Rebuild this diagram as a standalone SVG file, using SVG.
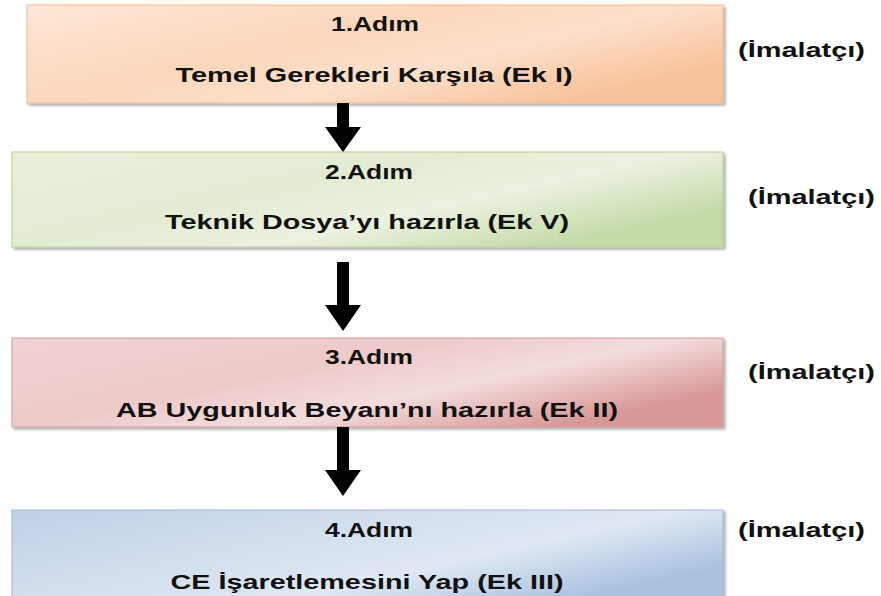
<svg xmlns="http://www.w3.org/2000/svg" width="881" height="596" viewBox="0 0 881 596">
  <defs>
    <linearGradient id="gPeach" x1="0" y1="0" x2="1" y2="0.6">
      <stop offset="0" stop-color="#FDE8D8"/>
      <stop offset="0.45" stop-color="#FBD7BB"/>
      <stop offset="0.7" stop-color="#FCE0CB"/>
      <stop offset="1" stop-color="#F8C39B"/>
    </linearGradient>
    <linearGradient id="gGreen" x1="0" y1="0" x2="1" y2="0.6">
      <stop offset="0" stop-color="#E8F0DC"/>
      <stop offset="0.45" stop-color="#E2ECD3"/>
      <stop offset="0.7" stop-color="#EBF2E1"/>
      <stop offset="1" stop-color="#C5DAA7"/>
    </linearGradient>
    <linearGradient id="gPink" x1="0" y1="0" x2="1" y2="0.6">
      <stop offset="0" stop-color="#F0D3D3"/>
      <stop offset="0.45" stop-color="#EDCACA"/>
      <stop offset="0.7" stop-color="#F3DCDC"/>
      <stop offset="1" stop-color="#D89897"/>
    </linearGradient>
    <linearGradient id="gBlue" x1="0" y1="0" x2="1" y2="0.6">
      <stop offset="0" stop-color="#BFD0E7"/>
      <stop offset="0.45" stop-color="#D5E0EE"/>
      <stop offset="0.7" stop-color="#DFE8F3"/>
      <stop offset="1" stop-color="#A9C1DF"/>
    </linearGradient>
    <filter id="shadow" x="-5%" y="-10%" width="110%" height="130%">
      <feGaussianBlur in="SourceAlpha" stdDeviation="1.5"/>
      <feOffset dx="2" dy="2" result="b"/>
      <feComponentTransfer><feFuncA type="linear" slope="0.35"/></feComponentTransfer>
      <feMerge><feMergeNode/><feMergeNode in="SourceGraphic"/></feMerge>
    </filter>
  </defs>
  <style>
    .box { stroke-width: 1; filter: url(#shadow); }
    .t { font-family: "Liberation Sans", Arial, sans-serif; font-weight: bold; font-size: 21px; fill: #111; }
    .c { text-anchor: middle; }
    .arrow { fill: #000; }
  </style>
  <rect width="881" height="596" fill="#fff"/>

  <g id="step1">
    <rect class="box" x="27" y="5" width="696" height="98" fill="url(#gPeach)" stroke="#F2B88E"/>
    <text class="t c" x="375" y="31" textLength="88" lengthAdjust="spacingAndGlyphs">1.Adım</text>
    <text class="t c" x="374" y="82" textLength="397" lengthAdjust="spacingAndGlyphs">Temel Gerekleri Karşıla (Ek I)</text>
  </g>
  <text id="role1" class="t" x="738" y="57" textLength="127" lengthAdjust="spacingAndGlyphs">(İmalatçı)</text>

  <g id="step2">
    <rect class="box" x="12" y="152" width="711" height="95" fill="url(#gGreen)" stroke="#B7CE92"/>
    <text class="t c" x="369" y="179" textLength="88" lengthAdjust="spacingAndGlyphs">2.Adım</text>
    <text class="t c" x="367" y="229" textLength="404" lengthAdjust="spacingAndGlyphs">Teknik Dosya’yı hazırla (Ek V)</text>
  </g>
  <text id="role2" class="t" x="748" y="204" textLength="127" lengthAdjust="spacingAndGlyphs">(İmalatçı)</text>

  <g id="step3">
    <rect class="box" x="12" y="338" width="711" height="89" fill="url(#gPink)" stroke="#D59B9A"/>
    <text class="t c" x="369" y="364" textLength="88" lengthAdjust="spacingAndGlyphs">3.Adım</text>
    <text class="t c" x="367" y="417" textLength="502" lengthAdjust="spacingAndGlyphs">AB Uygunluk Beyanı’nı hazırla (Ek II)</text>
  </g>
  <text id="role3" class="t" x="748" y="379" textLength="127" lengthAdjust="spacingAndGlyphs">(İmalatçı)</text>

  <g id="step4">
    <rect class="box" x="12" y="510" width="711" height="95" fill="url(#gBlue)" stroke="#9FB8D8"/>
    <text class="t c" x="369" y="537" textLength="88" lengthAdjust="spacingAndGlyphs">4.Adım</text>
    <text class="t c" x="367" y="589" textLength="393" lengthAdjust="spacingAndGlyphs">CE İşaretlemesini Yap (Ek III)</text>
  </g>
  <text id="role4" class="t" x="738" y="537" textLength="127" lengthAdjust="spacingAndGlyphs">(İmalatçı)</text>

  <g id="connectors">
    <path class="arrow" d="M337 103 H349 V127 H361 L343 152 L325 127 H337 Z"/>
    <path class="arrow" d="M337 262 H349 V305 H361 L343 331 L325 305 H337 Z"/>
    <path class="arrow" d="M337 427 H349 V470 H361 L343 496 L325 470 H337 Z"/>
  </g>
</svg>
